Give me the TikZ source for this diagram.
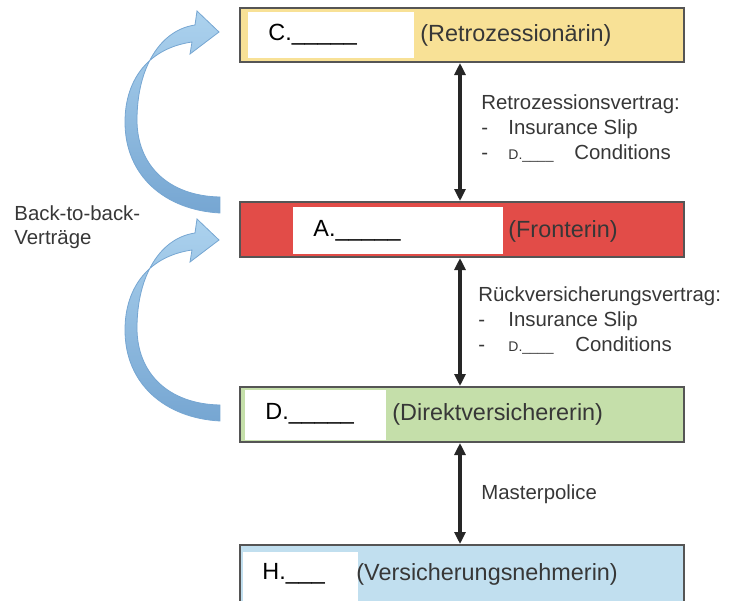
\documentclass[tikz,border=0pt]{standalone}
\usepackage{fontspec}
\setmainfont{Liberation Sans}
\usetikzlibrary{arrows.meta, positioning}
\definecolor{retroyellow}{RGB}{248,225,150}
\definecolor{frontred}{RGB}{226,76,72}
\definecolor{direktgreen}{RGB}{197,223,170}
\definecolor{vnblue}{RGB}{193,223,239}
\definecolor{boxline}{RGB}{85,85,85}
\definecolor{curvelight}{RGB}{172,210,238}
\definecolor{curvedark}{RGB}{118,166,210}
\definecolor{labelgray}{RGB}{55,55,55}

\begin{document}
\begin{tikzpicture}[
  x=0.5pt, y=-0.5pt,
  party/.style={draw=boxline, line width=1pt, rectangle, minimum width=222pt, minimum height=27.5pt, inner sep=0pt},
  blank/.style={fill=white, rectangle, inner sep=0pt, anchor=north west},
  slot/.style={font=\fontsize{11.7}{14}\selectfont, text=black, anchor=west, inner sep=0pt},
  role/.style={font=\fontsize{11.7}{14}\selectfont, text=labelgray, anchor=west, inner sep=0pt},
  contract/.style={font=\fontsize{10.2}{12.5}\selectfont, text=labelgray, align=left, anchor=north west, inner sep=0pt},
  link/.style={{Triangle[length=6pt,width=5.5pt]}-{Triangle[length=6pt,width=5.5pt]}, line width=2pt, black!85},
  curvearrow/.style={draw=curvedark, line width=0.4pt, top color=curvelight, bottom color=curvedark}
]
\useasboundingbox (0,0) rectangle (733,600);

\node[party, fill=retroyellow, minimum height=27pt] (retro)  at (462,35)    {};
\node[party, fill=frontred]                         (front)  at (462,229.5) {};
\node[party, fill=direktgreen]                      (direkt) at (462,414.5) {};
\node[party, fill=vnblue, minimum height=30pt]      (vn)     at (462,575)   {};

\node[blank, minimum width=83pt,   minimum height=23pt]   (retroblank)  at (248,12)  {};
\node[blank, minimum width=105pt,  minimum height=23.5pt] (frontblank)  at (293,207) {};
\node[blank, minimum width=70.5pt, minimum height=25pt]   (direktblank) at (245,390) {};
\node[blank, minimum width=57.5pt, minimum height=27pt]   (vnblank)     at (243,552) {};

\node[slot] (retroslot)  at (268,35)  {C.\_\_\_\_\_};
\node[role] (retrorole)  at (420,35)  {(Retrozessionärin)};
\node[slot] (frontslot)  at (313,231) {A.\_\_\_\_\_};
\node[role] (frontrole)  at (508,231) {(Fronterin)};
\node[slot] (direktslot) at (265,414) {D.\_\_\_\_\_};
\node[role] (direktrole) at (392,414) {(Direktversichererin)};
\node[slot] (vnslot)     at (262,574) {H.\_\_\_};
\node[role] (vnrole)     at (356,574) {(Versicherungsnehmerin)};

\draw[link] ([xshift=-1pt]retro.south)  -- ([xshift=-1pt]front.north);
\draw[link] ([xshift=-1pt]front.south)  -- ([xshift=-1pt]direkt.north);
\draw[link] ([xshift=-1pt]direkt.south) -- ([xshift=-1pt]vn.north);

\node[contract] (retrovertrag) at (481,94)
  {Retrozessionsvertrag:\\
   \makebox[13.5pt][l]{-}Insurance Slip\\
   \makebox[13.5pt][l]{-}\makebox[33pt][l]{\fontsize{7}{8}\selectfont D.\_\_\_\_}Conditions};
\node[contract] (rueckvertrag) at (478,286)
  {Rückversicherungsvertrag:\\
   \makebox[15pt][l]{-}Insurance Slip\\
   \makebox[15pt][l]{-}\makebox[33.5pt][l]{\fontsize{7}{8}\selectfont D.\_\_\_\_}Conditions};
\node[contract, anchor=west] (master) at (481,494) {Masterpolice};

\node[contract, anchor=west, font=\fontsize{10.2}{12}\selectfont] (backtoback) at (14,227) {Back-to-back-\\Verträge};

\foreach \dy in {0,208} {
  \begin{scope}[shift={(0,\dy)}]
    \path[curvearrow] (220,213) .. controls (165,210) and (125,176) .. (125,122)
      .. controls (125,78) and (150,48) .. (192,42) -- (190,54) -- (219,32) -- (197,11) -- (195,25)
      .. controls (160,30) and (137,68) .. (137,120)
      .. controls (137,165) and (168,196) .. (220,197) -- cycle;
  \end{scope}
}
\end{tikzpicture}
\end{document}
